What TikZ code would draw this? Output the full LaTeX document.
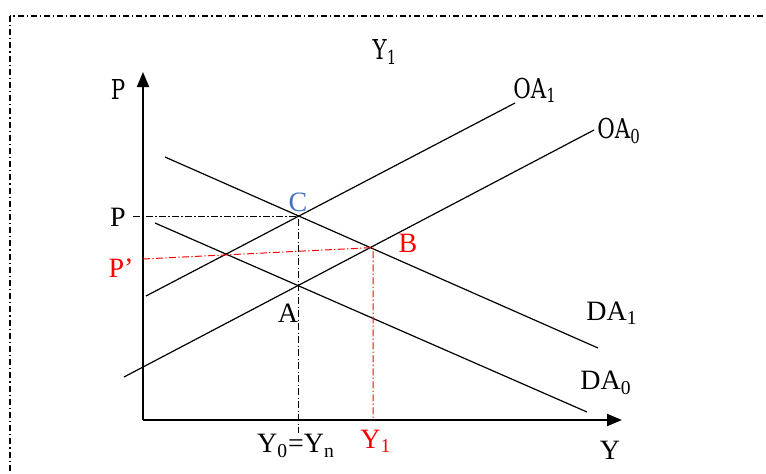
\documentclass[tikz,border=0pt]{standalone}
\usepackage{fontspec}
\setmainfont{Liberation Serif}
\newfontfamily\condfont[FakeStretch=0.78]{DejaVu Serif}
\usetikzlibrary{arrows.meta,intersections}
\definecolor{cblue}{RGB}{68,114,196}

\begin{document}
\begin{tikzpicture}[x=0.5pt,y=-0.5pt,
  curve/.style={line width=0.6pt},
  axis/.style={line width=1pt,-{Triangle[length=7.5pt,width=6pt]}},
  guide/.style={line width=0.5pt,dash pattern=on 3.5pt off 1.2pt on 0.6pt off 1.2pt},
  lbl/.style={font=\fontsize{14}{16}\selectfont,inner sep=0pt},
  clbl/.style={font=\condfont\fontsize{13.7}{16}\selectfont,inner sep=0pt}]
\useasboundingbox (0,0) rectangle (766,473);
\begin{scope}
\clip (0,0) rectangle (766,473);
\draw[line width=0.6pt,dash pattern=on 3pt off 1.5pt on 0.6pt off 1.5pt] (10,16) rectangle (800,500);
\end{scope}
% axes
\coordinate (O) at (143,420);
\coordinate (ytop) at (143,72);
\coordinate (xend) at (622,420);
\draw[axis] (O) -- (ytop);
\draw[axis] (O) -- (xend);
% supply and demand lines
\foreach \n/\xa/\ya/\xb/\yb in {oa1/146/296/515/103, oa0/124/377/594/130, da1/165/157/598/348, da0/155/223/587/412}
  \draw[curve,name path global=\n] (\xa,\ya) -- (\xb,\yb);
\path[name intersections={of=oa1 and da1,by=C}];
\path[name intersections={of=oa0 and da1,by=B}];
% guides
\coordinate (Pax) at (133,0);
\coordinate (Pp) at (143,259);
\coordinate (Bx) at (373,0);
\path (C |- O) ++(0,13) coordinate (Cy);
\draw[guide] (C -| Pax) -- (C) -- (Cy);
\draw[guide,red] (Pp) -- (B -| Bx) -- (Bx |- O);
% labels
\node[clbl] (Plab) at (118,90) {P};
\node[clbl] (Ytop) at (385,52) {Y\textsubscript{1}};
\node[clbl,anchor=west] (OA1lab) at (513,90) {OA\textsubscript{1}};
\node[clbl,anchor=west] (OA0lab) at (597,131) {OA\textsubscript{0}};
\node[lbl,text=cblue] (Clab) at (298,202) {C};
\node[lbl] (Pmid) at (118,217) {P};
\node[lbl,text=red] (Blab) at (408,243) {B};
\node[lbl,text=red] (Pplab) at (121,268) {P’};
\node[lbl] (Alab) at (288,313) {A};
\node[lbl] (DA1lab) at (612,313) {DA\textsubscript{1}};
\node[lbl] (DA0lab) at (606,383) {DA\textsubscript{0}};
\node[lbl] (Y0lab) at (296,446) {Y\textsubscript{0}=Y\textsubscript{n}};
\node[lbl,text=red] (Y1lab) at (376,441) {Y\textsubscript{1}};
\node[lbl] (Ylab) at (610,450) {Y};
\end{tikzpicture}
\end{document}
